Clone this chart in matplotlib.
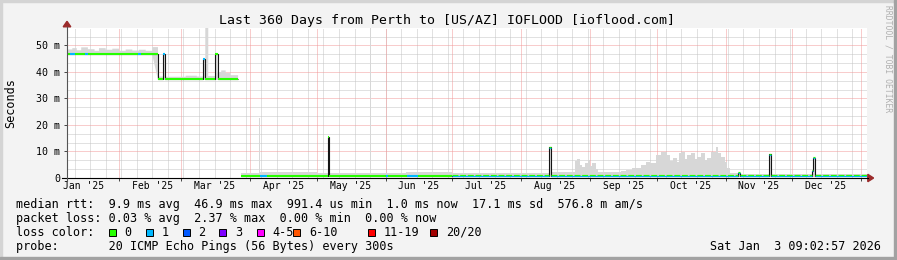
import matplotlib
matplotlib.use('Agg')
import matplotlib.pyplot as plt
import matplotlib.dates as mdates
from matplotlib.patches import Rectangle, Polygon
from matplotlib.lines import Line2D
from matplotlib.transforms import offset_copy
import numpy as np
import pandas as pd

plt.rcParams['font.family'] = ['DejaVu Sans Mono']

W, H, DPI = 897, 260, 100

t_start = '2025-01-08 09:03'
t_end = '2026-01-03 09:03'

# median rtt in ms, each value holds from its date until the next one (nan = no data)
median_dates = ['2025-01-08 09:03', '2025-02-18 12:00', '2025-02-18 18:00', '2025-02-20 19:00',
                '2025-02-21 17:00', '2025-03-10 19:00', '2025-03-11 17:00', '2025-03-16 07:00',
                '2025-03-17 10:00', '2025-03-26 14:00', '2025-03-27 22:00', '2025-05-06 02:00',
                '2025-05-06 12:00', '2025-08-13 17:00', '2025-08-14 14:00', '2025-11-06 12:00',
                '2025-11-07 06:00', '2025-11-20 14:00', '2025-11-21 12:00', '2025-12-09 22:00',
                '2025-12-10 10:00', '2025-12-11 04:00']
median_ms = [46.7, 43.0, 37.5, 46.9,
             37.5, 44.8, 37.5, 46.9,
             37.5, np.nan, 0.9, 15.6,
             0.9, 11.6, 0.9, 2.0,
             0.9, 9.0, 0.9, 2.8,
             7.7, 0.9]

# packet loss class of the median line ('0/1' = flickering between 0 and 1)
loss_dates = ['2025-01-08 09:03', '2025-01-10 00:00', '2025-01-12 06:00', '2025-01-16 12:00',
              '2025-01-18 00:00', '2025-02-09 12:00', '2025-02-11 00:00', '2025-02-20 19:00',
              '2025-02-21 17:00', '2025-03-10 19:00', '2025-03-11 17:00', '2025-04-05 12:00',
              '2025-04-08 12:00', '2025-06-01 00:00', '2025-06-02 00:00', '2025-06-10 12:00',
              '2025-06-15 12:00', '2025-07-01 00:00']
loss_class = ['0', '1', '0', '1',
              '0', '1', '0', '1',
              '0', '1', '0', '1',
              '0', '1', '0', '1',
              '0', '0/1']

# smoke (spread of the 20 pings): upper edge in ms
smoke_dates = ['2025-01-08 09:03', '2025-01-11 00:00', '2025-01-13 00:00', '2025-01-15 00:00',
               '2025-01-18 00:00', '2025-01-21 00:00', '2025-01-23 00:00', '2025-01-26 00:00',
               '2025-01-29 00:00', '2025-02-01 00:00', '2025-02-04 00:00', '2025-02-07 00:00',
               '2025-02-10 00:00', '2025-02-13 00:00', '2025-02-16 00:00', '2025-02-18 13:00',
               '2025-02-20 19:00', '2025-02-21 17:00', '2025-03-03 00:00', '2025-03-08 00:00',
               '2025-03-10 19:00', '2025-03-11 17:00', '2025-03-11 20:00', '2025-03-13 04:00',
               '2025-03-16 07:00', '2025-03-17 10:00', '2025-03-19 00:00', '2025-03-21 00:00',
               '2025-03-23 00:00', '2025-03-26 14:00', '2025-03-27 22:00', '2025-04-05 02:00',
               '2025-04-05 12:00', '2025-04-20 00:00', '2025-05-01 00:00', '2025-05-06 02:00',
               '2025-05-06 12:00', '2025-05-20 08:00', '2025-05-20 16:00', '2025-05-25 03:00',
               '2025-05-25 11:00', '2025-06-10 00:00', '2025-07-01 00:00', '2025-08-13 17:00',
               '2025-08-14 14:00', '2025-08-25 00:00', '2025-08-26 00:00', '2025-08-27 12:00',
               '2025-08-28 12:00', '2025-08-29 12:00', '2025-08-31 00:00', '2025-09-01 00:00',
               '2025-09-02 00:00', '2025-09-03 12:00', '2025-09-04 12:00', '2025-09-15 00:00',
               '2025-09-17 00:00', '2025-09-20 00:00', '2025-09-24 00:00', '2025-09-26 00:00',
               '2025-09-28 00:00', '2025-09-30 12:00', '2025-10-03 00:00', '2025-10-05 12:00',
               '2025-10-07 00:00', '2025-10-08 12:00', '2025-10-10 00:00', '2025-10-11 00:00',
               '2025-10-12 00:00', '2025-10-13 12:00', '2025-10-14 12:00', '2025-10-16 12:00',
               '2025-10-18 00:00', '2025-10-19 00:00', '2025-10-21 00:00', '2025-10-22 12:00',
               '2025-10-23 12:00', '2025-10-25 12:00', '2025-10-27 12:00', '2025-10-28 12:00',
               '2025-10-30 00:00', '2025-10-31 12:00', '2025-11-01 12:00', '2025-11-03 00:00',
               '2025-11-06 12:00', '2025-11-07 06:00', '2025-11-20 14:00', '2025-11-21 12:00',
               '2025-12-09 22:00', '2025-12-10 10:00', '2025-12-11 04:00']
smoke_top_ms = [48.5, 49.0, 48.2, 49.3,
                48.6, 48.0, 49.0, 48.4,
                48.8, 48.0, 48.5, 48.1,
                48.4, 48.0, 49.4, 38.3,
                47.2, 38.2, 38.6, 38.3,
                45.0, 38.4, 60.0, 38.5,
                47.2, 40.0, 40.6, 39.6,
                38.8, np.nan, 2.0, 22.5,
                2.3, 2.4, 2.0, 16.0,
                2.0, 60.0, 2.0, 60.0,
                2.0, 2.2, 1.8, 11.8,
                2.2, 6.5, 7.2, 5.0,
                4.0, 5.5, 6.8, 4.5,
                5.5, 3.5, 2.2, 2.6,
                3.0, 3.7, 4.9, 6.2,
                5.5, 8.7, 9.9, 8.7,
                6.5, 7.4, 6.0, 9.3,
                9.9, 7.0, 8.7, 9.3,
                7.0, 8.0, 9.3, 6.8,
                7.4, 9.9, 11.8, 9.3,
                8.0, 6.0, 3.7, 1.7,
                2.1, 1.6, 9.2, 1.5,
                3.0, 7.9, 1.5]
# lower edge of the smoke
floor_dates = ['2025-01-08 09:03', '2025-02-18 13:00', '2025-03-27 22:00']
floor_ms = [46.4, 37.0, 0.5]

month_labels = ["Jan '25", "Feb '25", "Mar '25", "Apr '25", "May '25", "Jun '25",
                "Jul '25", "Aug '25", "Sep '25", "Oct '25", "Nov '25", "Dec '25"]
label_dates = ['2025-01-16', '2025-02-16', '2025-03-16', '2025-04-16', '2025-05-16', '2025-06-16',
               '2025-07-16', '2025-08-16', '2025-09-16', '2025-10-16', '2025-11-16', '2025-12-16']
y_ticks = [0, 10, 20, 30, 40, 50]
y_labels = ['0', '10 m', '20 m', '30 m', '40 m', '50 m']

loss_names = ['0', '1', '2', '3', '4-5', '6-10', '11-19', '20/20']
loss_colors = ['#26ff00', '#00b8ff', '#0059ff', '#7e00ff', '#ff00ff', '#ff5500', '#ff0000', '#a10000']

median_stats = ['9.9 ms avg', '46.9 ms max', '991.4 us min', '1.0 ms now', '17.1 ms sd', '576.8 m am/s']
loss_stats = ['0.03 % avg', '2.37 % max', '0.00 % min', '0.00 % now']
probe_text = '20 ICMP Echo Pings (56 Bytes) every 300s'
title = 'Last 360 Days from Perth to [US/AZ] IOFLOOD [ioflood.com]'
stamp = 'Sat Jan  3 09:02:57 2026'


def dnum(lst):
    return mdates.date2num(pd.to_datetime(lst).to_pydatetime())


def step_lookup(xs, ys, t):
    i = np.searchsorted(xs, t, side='right') - 1
    return np.asarray(ys, dtype=float)[np.clip(i, 0, len(ys) - 1)]


def stepify(xs, ys):
    # xs has one more entry than ys (the end time)
    return np.repeat(xs, 2)[1:-1], np.repeat(np.asarray(ys, dtype=float), 2)


def P(x, y):
    return (x / W, 1 - y / H)


t0, t1 = dnum([t_start, t_end])

fig = plt.figure(figsize=(W / DPI, H / DPI), dpi=DPI, facecolor='#f3f3f3')
ax = fig.add_axes([66.5 / W, 1 - 178 / H, 800 / W, 150 / H])
ax.set_facecolor('white')
for s in ax.spines.values():
    s.set_visible(False)
ax.set_xlim(t0, t1)
ax.set_ylim(0, 56.6)

# grid
grid_dots = (0, (1, 1))
weeks = dnum(pd.date_range('2025-01-12', '2026-01-03', freq='7D'))
months = dnum(pd.date_range('2025-02-01', '2026-01-01', freq='MS'))
for w in weeks:
    ax.axvline(w, color='#c4c4c4', lw=0.72, ls=grid_dots, zorder=0.5)
for k in range(1, 17):
    if k % 3:
        ax.axhline(k * 10 / 3, color='#c4c4c4', lw=0.72, ls=grid_dots, zorder=0.5)
for m in months:
    ax.axvline(m, color='#f29a9a', lw=0.72, ls=grid_dots, zorder=0.6)
for yv in y_ticks[1:]:
    ax.axhline(yv, color='#f29a9a', lw=0.72, ls=grid_dots, zorder=0.6)

# smoke
sx = np.append(dnum(smoke_dates), t1)
SX, STOP = stepify(sx, smoke_top_ms)
SFLOOR = step_lookup(dnum(floor_dates), floor_ms, SX)
ax.fill_between(SX, SFLOOR, STOP, color='#d7d7d7', lw=0, zorder=1)

# median line (dark), then loss coloured bar on top
mx = dnum(median_dates)
MX, MY = stepify(np.append(mx, t1), median_ms)
ax.plot(MX, MY, color='#151515', lw=0.8, zorder=2,
        solid_capstyle='butt', solid_joinstyle='miter')

lx = dnum(loss_dates)
bx = np.unique(np.concatenate([mx, lx, [t1]]))
bx = bx[bx <= t1]
segs = {}
for a, b in zip(bx[:-1], bx[1:]):
    v = float(step_lookup(mx, median_ms, a))
    if np.isnan(v):
        continue
    cls = loss_class[np.searchsorted(lx, a, side='right') - 1]
    segs.setdefault(cls, []).append((a, b, v))

col = dict(zip(loss_names, loss_colors))
tr_up = offset_copy(ax.transData, fig=fig, x=0, y=0.6, units='dots')
tr_dn = offset_copy(ax.transData, fig=fig, x=0, y=-0.6, units='dots')
for cls, lst in segs.items():
    a, b, v = map(np.array, zip(*lst))
    if cls == '0/1':
        ax.hlines(v, a, b, colors=col['1'], lw=0.85, zorder=3, transform=tr_dn, capstyle='butt')
        ax.hlines(v, a, b, colors=col['0'], lw=0.85, zorder=3.1, transform=tr_up,
                  linestyles=(0, (5, 1.5)), capstyle='butt')
    else:
        ax.hlines(v, a, b, colors=col[cls], lw=1.5, zorder=3, capstyle='butt')

# ticks and labels
ax.set_yticks(y_ticks, y_labels)
ax.set_xticks(dnum(label_dates), month_labels)
ax.set_xticks(months, minor=True)
ax.tick_params(axis='y', length=2, width=0.7, color='#444444', pad=2.7, labelsize=7.2)
ax.tick_params(axis='x', which='major', length=0, pad=2.2, labelsize=7)
ax.tick_params(axis='x', which='minor', length=2, width=0.7, color='#444444')

# axes lines with arrows
fig.add_artist(Line2D([62 / W, 868 / W], [1 - 178 / H] * 2, color='black', lw=0.8))
fig.add_artist(Line2D([66.5 / W] * 2, [1 - 181 / H, 1 - 26.5 / H], color='#555555', lw=0.8))
fig.add_artist(Polygon([P(63.2, 26.8), P(70.8, 26.8), P(67, 21.3)], closed=True,
                       color='#9b2b2b', transform=fig.transFigure))
fig.add_artist(Polygon([P(867.8, 174.3), P(867.8, 181.7), P(873.6, 178)], closed=True,
                       color='#9b2b2b', transform=fig.transFigure))

# frame
fig.add_artist(Rectangle((0, 1 - 2 / H), 1, 2 / H, color='#d4d4d4', transform=fig.transFigure))
fig.add_artist(Rectangle((0, 0), 2 / W, 1, color='#d4d4d4', transform=fig.transFigure))
fig.add_artist(Rectangle((1 - 3 / W, 0), 3 / W, 1, color='#a2a2a2', transform=fig.transFigure))
fig.add_artist(Rectangle((0, 0), 1, 3 / H, color='#a2a2a2', transform=fig.transFigure))

# texts
fig.text(*P(447, 24), title, ha='center', va='baseline', fontsize=9.5)
fig.text(*P(11, 103), 'Seconds', rotation=90, ha='center', va='center', fontsize=8.5)
fig.text(*P(887.5, 5), 'RRDTOOL / TOBI OETIKER', rotation=270, ha='center', va='top',
         fontsize=5.8, color='#b0b0b0')

fs = 8.5
fig.text(*P(16, 207.7), 'median rtt:  ' + '  '.join(median_stats), ha='left', va='baseline', fontsize=fs)
fig.text(*P(16, 221.7), 'packet loss: ' + '  '.join(loss_stats), ha='left', va='baseline', fontsize=fs)
fig.text(*P(16, 235.7), 'loss color:', ha='left', va='baseline', fontsize=fs)
fig.text(*P(16, 250), 'probe:       ' + probe_text, ha='left', va='baseline', fontsize=fs)
fig.text(*P(881, 250), stamp, ha='right', va='baseline', fontsize=fs)

box_x = [108.5, 145.7, 182.7, 219.3, 256.7, 293.3, 368.3, 430.0]
for bxp, name, c in zip(box_x, loss_names, loss_colors):
    fig.add_artist(Rectangle(P(bxp, 235.5), 7 / W, 7 / H, facecolor=c, edgecolor='black',
                             lw=0.7, transform=fig.transFigure))
    fig.text(*P(bxp + 15.7, 235.7), name, ha='left', va='baseline', fontsize=fs)

fig.savefig('out.png', dpi=DPI, facecolor=fig.get_facecolor())
